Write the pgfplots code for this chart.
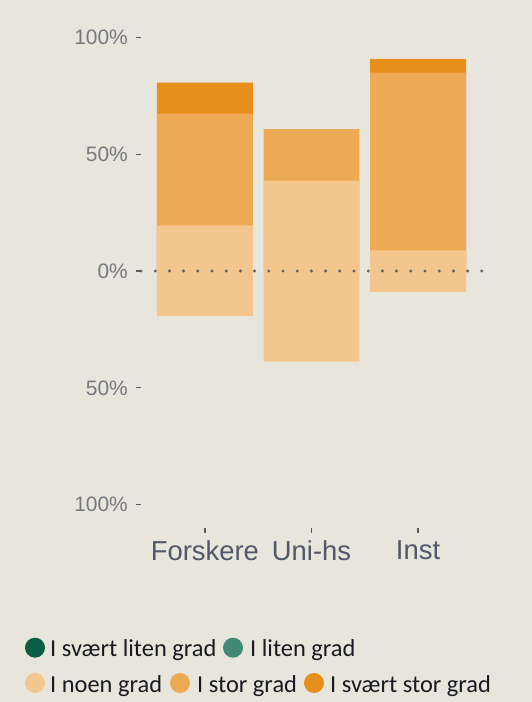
\documentclass[border=0pt]{standalone}
\usepackage{pgfplots}
\pgfplotsset{compat=1.18}
\usepackage{fontspec}
\setmainfont{Liberation Sans}
\newfontfamily\legendfont{Carlito}
\definecolor{bg}{RGB}{232,230,220}
\definecolor{vstor}{RGB}{232,142,26}
\definecolor{stor}{RGB}{237,170,85}
\definecolor{noen}{RGB}{242,198,140}
\definecolor{vliten}{RGB}{10,94,70}
\definecolor{liten}{RGB}{66,138,118}
\definecolor{ylab}{RGB}{118,120,126}
\definecolor{xlab}{RGB}{80,88,105}
\definecolor{legtext}{RGB}{25,25,35}
\begin{document}
\begin{tikzpicture}[x=1bp,y=1bp]
\fill[bg] (0,0) rectangle (532,702);
\begin{axis}[
  at={(141bp,174bp)}, anchor=south west,
  scale only axis, width=341bp, height=514bp,
  xmin=0.4, xmax=3.6, ymin=-110, ymax=110,
  axis line style={draw=none},
  xtick={1,2,3}, xticklabels={Forskere,Uni-hs,Inst},
  ytick={-100,-50,0,50,100}, yticklabels={100\%,50\%,0\%,50\%,100\%},
  xtick pos=bottom, ytick pos=left, tick align=outside,
  major tick length=5bp,
  tick style={draw=black!65, line width=1.3bp},
  /pgf/number format/assume math mode=true,
  yticklabel style={font=\fontsize{21}{21}\selectfont, text=ylab, anchor=east, inner sep=0pt, xshift=-8bp},
  xticklabel style={font=\fontsize{27.5}{27.5}\selectfont, text=xlab, anchor=north, inner sep=0pt, yshift=-7bp},
  clip=false,
]
% cumulative tops (drawn back to front)
\addplot[ybar, bar width=0.9, bar shift=0pt, fill=vstor, draw=none] coordinates {(1,80.6) (3,90.8)};
\addplot[ybar, bar width=0.9, bar shift=0pt, fill=stor, draw=none] coordinates {(1,67.3) (2,60.7) (3,84.9)};
\addplot[ybar, bar width=0.9, bar shift=0pt, fill=noen, draw=none] coordinates {(1,19.5) (2,38.7) (3,8.8)};
\addplot[ybar, bar width=0.9, bar shift=0pt, fill=noen, draw=none] coordinates {(1,-19.3) (2,-38.8) (3,-8.9)};
\addplot[draw=black!62, line width=3.3bp, dash pattern=on 0pt off 14.2bp, line cap=round] coordinates {(0.4,0) (3.6,0)};
\end{axis}
% legend
\fill[vliten] (35,54.3) circle (10);
\node[anchor=base west, inner sep=0pt, font=\legendfont\fontsize{24.5}{24.5}\selectfont, text=legtext] at (50,45.3) {I svært liten grad};
\fill[liten] (233,54.3) circle (10);
\node[anchor=base west, inner sep=0pt, font=\legendfont\fontsize{24.5}{24.5}\selectfont, text=legtext] at (250,45.3) {I liten grad};
\fill[noen] (35,19) circle (10);
\node[anchor=base west, inner sep=0pt, font=\legendfont\fontsize{24.5}{24.5}\selectfont, text=legtext] at (50,9.3) {I noen grad};
\fill[stor] (180,19) circle (10);
\node[anchor=base west, inner sep=0pt, font=\legendfont\fontsize{24.5}{24.5}\selectfont, text=legtext] at (197,9.3) {I stor grad};
\fill[vstor] (314,19) circle (10);
\node[anchor=base west, inner sep=0pt, font=\legendfont\fontsize{24.5}{24.5}\selectfont, text=legtext] at (330,9.3) {I svært stor grad};
\end{tikzpicture}
\end{document}
